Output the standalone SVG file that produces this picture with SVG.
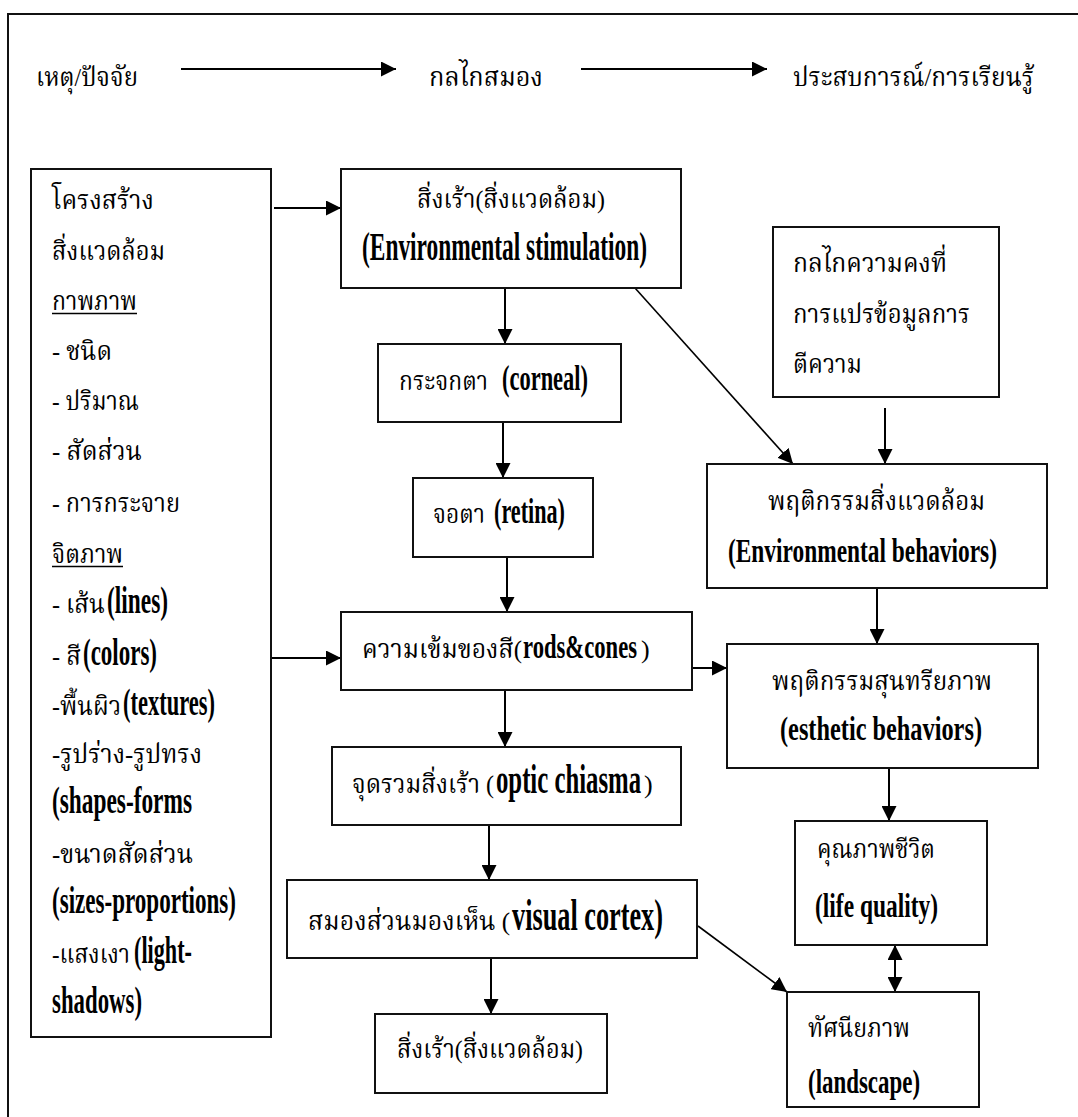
<svg xmlns="http://www.w3.org/2000/svg" width="1078" height="1117" viewBox="0 0 1078 1117">
<style>
.bx{fill:#fff;stroke:#111;stroke-width:2}
.ln{stroke:#000;stroke-width:2;fill:none}
.dg{stroke:#000;stroke-width:1.6;fill:none}
.th{font-family:"Liberation Serif","Noto Serif Thai","Noto Sans Thai",serif;font-size:26px;fill:#000}
.en{font-family:"Liberation Serif",serif;font-weight:bold;fill:#000}
.ul{stroke:#000;stroke-width:1.3}
</style>
<defs>
<marker id="ah" markerUnits="userSpaceOnUse" markerWidth="15" markerHeight="15" refX="15" refY="7.5" orient="auto-start-reverse" viewBox="0 0 15 15">
<path d="M0,0 L15,7.5 L0,15 z" fill="#000"/>
</marker>
</defs>
<rect width="1078" height="1117" fill="#fff"/>
<path d="M1078,14 H8 V1117" fill="none" stroke="#111" stroke-width="2"/>

<g id="header">
<text class="th" x="36" y="86" textLength="102" lengthAdjust="spacingAndGlyphs">เหตุ/ปัจจัย</text>
<text class="th" x="429" y="86" textLength="114" lengthAdjust="spacingAndGlyphs">กลไกสมอง</text>
<text class="th" x="793" y="86" textLength="241" lengthAdjust="spacingAndGlyphs">ประสบการณ์/การเรียนรู้</text>
</g>

<g id="connectors">
<line class="ln" x1="181" y1="69" x2="396" y2="69" marker-end="url(#ah)"/>
<line class="ln" x1="581" y1="69" x2="767" y2="69" marker-end="url(#ah)"/>
<line class="ln" x1="274" y1="208" x2="341" y2="208" marker-end="url(#ah)"/>
<line class="ln" x1="271" y1="658" x2="341" y2="658" marker-end="url(#ah)"/>
<line class="ln" x1="505" y1="288" x2="505" y2="344" marker-end="url(#ah)"/>
<line class="ln" x1="503" y1="422" x2="503" y2="478" marker-end="url(#ah)"/>
<line class="ln" x1="507" y1="557" x2="507" y2="612" marker-end="url(#ah)"/>
<line class="ln" x1="505" y1="690" x2="505" y2="747" marker-end="url(#ah)"/>
<line class="ln" x1="489" y1="825" x2="489" y2="880" marker-end="url(#ah)"/>
<line class="ln" x1="491" y1="958" x2="491" y2="1014" marker-end="url(#ah)"/>
<line class="dg" x1="635" y1="288" x2="793" y2="464" marker-end="url(#ah)"/>
<line class="ln" x1="885" y1="408" x2="885" y2="464" marker-end="url(#ah)"/>
<line class="ln" x1="877" y1="588" x2="877" y2="644" marker-end="url(#ah)"/>
<line class="ln" x1="692" y1="668" x2="727" y2="668" marker-end="url(#ah)"/>
<line class="ln" x1="889" y1="768" x2="889" y2="821" marker-end="url(#ah)"/>
<line class="ln" x1="895" y1="945" x2="895" y2="992" marker-start="url(#ah)" marker-end="url(#ah)"/>
<line class="dg" x1="698" y1="926" x2="787" y2="992" marker-end="url(#ah)"/>
</g>

<g id="factors">
<rect class="bx" x="31" y="169" width="240" height="868"/>
<text class="th" x="52" y="209" textLength="102" lengthAdjust="spacingAndGlyphs">โครงสร้าง</text>
<text class="th" x="52" y="260" textLength="113" lengthAdjust="spacingAndGlyphs">สิ่งแวดล้อม</text>
<text class="th" x="52" y="310" textLength="85" lengthAdjust="spacingAndGlyphs">กาพภาพ</text>
<line class="ul" x1="52" y1="313.5" x2="137" y2="313.5"/>
<text class="th" x="52" y="360" textLength="60" lengthAdjust="spacingAndGlyphs">- ชนิด</text>
<text class="th" x="52" y="410" textLength="87" lengthAdjust="spacingAndGlyphs">- ปริมาณ</text>
<text class="th" x="52" y="460" textLength="90" lengthAdjust="spacingAndGlyphs">- สัดส่วน</text>
<text class="th" x="52" y="512" textLength="128" lengthAdjust="spacingAndGlyphs">- การกระจาย</text>
<text class="th" x="52" y="563" textLength="71" lengthAdjust="spacingAndGlyphs">จิตภาพ</text>
<line class="ul" x1="52" y1="566.5" x2="123" y2="566.5"/>
<text class="th" x="52" y="613" textLength="53" lengthAdjust="spacingAndGlyphs">- เส้น</text>
<text class="en" transform="translate(107,613) scale(0.6,1)" font-size="38" textLength="101.7" lengthAdjust="spacingAndGlyphs">(lines)</text>
<text class="th" x="52" y="665" textLength="29" lengthAdjust="spacingAndGlyphs">- สี</text>
<text class="en" transform="translate(83,665) scale(0.6,1)" font-size="38" textLength="123.3" lengthAdjust="spacingAndGlyphs">(colors)</text>
<text class="th" x="52" y="715" textLength="69" lengthAdjust="spacingAndGlyphs">-พื้นผิว</text>
<text class="en" transform="translate(123,715) scale(0.6,1)" font-size="38" textLength="153.3" lengthAdjust="spacingAndGlyphs">(textures)</text>
<text class="th" x="52" y="763" textLength="150" lengthAdjust="spacingAndGlyphs">-รูปร่าง-รูปทรง</text>
<text class="en" transform="translate(52,813) scale(0.6,1)" font-size="38" textLength="233.3" lengthAdjust="spacingAndGlyphs">(shapes-forms</text>
<text class="th" x="52" y="863" textLength="141" lengthAdjust="spacingAndGlyphs">-ขนาดสัดส่วน</text>
<text class="en" transform="translate(52,913) scale(0.6,1)" font-size="38" textLength="306.7" lengthAdjust="spacingAndGlyphs">(sizes-proportions)</text>
<text class="th" x="52" y="963" textLength="78" lengthAdjust="spacingAndGlyphs">-แสงเงา</text>
<text class="en" transform="translate(134,963) scale(0.6,1)" font-size="38" textLength="96.7" lengthAdjust="spacingAndGlyphs">(light-</text>
<text class="en" transform="translate(52,1013) scale(0.6,1)" font-size="38" textLength="150" lengthAdjust="spacingAndGlyphs">shadows)</text>
</g>

<g id="env-stimulation">
<rect class="bx" x="341" y="169" width="340" height="119"/>
<text class="th" x="417" y="208" textLength="188" lengthAdjust="spacingAndGlyphs">สิ่งเร้า(สิ่งแวดล้อม)</text>
<text class="en" transform="translate(362,260) scale(0.584,1)" font-size="40" textLength="488" lengthAdjust="spacingAndGlyphs">(Environmental stimulation)</text>
</g>

<g id="corneal">
<rect class="bx" x="378" y="344" width="243" height="78"/>
<text class="th" x="399" y="390" textLength="89" lengthAdjust="spacingAndGlyphs">กระจกตา</text>
<text class="en" transform="translate(502,390) scale(0.64,1)" font-size="35" textLength="134.4" lengthAdjust="spacingAndGlyphs">(corneal)</text>
</g>

<g id="retina">
<rect class="bx" x="413" y="478" width="180" height="79"/>
<text class="th" x="433" y="523" textLength="52" lengthAdjust="spacingAndGlyphs">จอตา</text>
<text class="en" transform="translate(494,523) scale(0.63,1)" font-size="35" textLength="112.7" lengthAdjust="spacingAndGlyphs">(retina)</text>
</g>

<g id="rods-cones">
<rect class="bx" x="341" y="612" width="351" height="78"/>
<text class="th" x="362" y="658" textLength="160" lengthAdjust="spacingAndGlyphs">ความเข้มของสี(</text>
<text class="en" transform="translate(523,658) scale(0.683,1)" font-size="33" textLength="166.9" lengthAdjust="spacingAndGlyphs">rods&amp;cones</text>
<text class="th" x="641" y="658">)</text>
</g>

<g id="optic-chiasma">
<rect class="bx" x="332" y="747" width="349" height="78"/>
<text class="th" x="352" y="793" font-size="29" textLength="142" lengthAdjust="spacingAndGlyphs">จุดรวมสิ่งเร้า (</text>
<text class="en" transform="translate(496,793) scale(0.575,1)" font-size="43" textLength="252.2" lengthAdjust="spacingAndGlyphs">optic chiasma</text>
<text class="th" x="644" y="793" font-size="29">)</text>
</g>

<g id="visual-cortex">
<rect class="bx" x="287" y="880" width="410" height="78"/>
<text class="th" x="308" y="930" font-size="29" textLength="202" lengthAdjust="spacingAndGlyphs">สมองส่วนมองเห็น (</text>
<text class="en" transform="translate(512,930) scale(0.583,1)" font-size="45" textLength="259" lengthAdjust="spacingAndGlyphs">visual cortex)</text>
</g>

<g id="stimulus">
<rect class="bx" x="375" y="1014" width="232" height="79"/>
<text class="th" x="397" y="1058" font-size="28" textLength="186" lengthAdjust="spacingAndGlyphs">สิ่งเร้า(สิ่งแวดล้อม)</text>
</g>

<g id="constancy">
<rect class="bx" x="773" y="227" width="226" height="170"/>
<text class="th" x="793" y="272" textLength="154" lengthAdjust="spacingAndGlyphs">กลไกความคงที่</text>
<text class="th" x="793" y="323" textLength="177" lengthAdjust="spacingAndGlyphs">การแปรข้อมูลการ</text>
<text class="th" x="793" y="373" textLength="69" lengthAdjust="spacingAndGlyphs">ตีความ</text>
</g>

<g id="env-behaviors">
<rect class="bx" x="707" y="464" width="340" height="124"/>
<text class="th" x="768" y="510" textLength="217" lengthAdjust="spacingAndGlyphs">พฤติกรรมสิ่งแวดล้อม</text>
<text class="en" transform="translate(728,562) scale(0.686,1)" font-size="34" textLength="392.1" lengthAdjust="spacingAndGlyphs">(Environmental behaviors)</text>
</g>

<g id="esthetic-behaviors">
<rect class="bx" x="727" y="644" width="311" height="124"/>
<text class="th" x="772" y="690" textLength="220" lengthAdjust="spacingAndGlyphs">พฤติกรรมสุนทรียภาพ</text>
<text class="en" transform="translate(780,740) scale(0.716,1)" font-size="34" textLength="282.1" lengthAdjust="spacingAndGlyphs">(esthetic behaviors)</text>
</g>

<g id="life-quality">
<rect class="bx" x="795" y="821" width="192" height="124"/>
<text class="th" x="817" y="858" textLength="118" lengthAdjust="spacingAndGlyphs">คุณภาพชีวิต</text>
<text class="en" transform="translate(815,917) scale(0.69,1)" font-size="34" textLength="178.3" lengthAdjust="spacingAndGlyphs">(life quality)</text>
</g>

<g id="landscape">
<rect class="bx" x="787" y="992" width="192" height="115"/>
<text class="th" x="808" y="1037" textLength="102" lengthAdjust="spacingAndGlyphs">ทัศนียภาพ</text>
<text class="en" transform="translate(808,1093) scale(0.674,1)" font-size="34" textLength="166.2" lengthAdjust="spacingAndGlyphs">(landscape)</text>
</g>
</svg>
